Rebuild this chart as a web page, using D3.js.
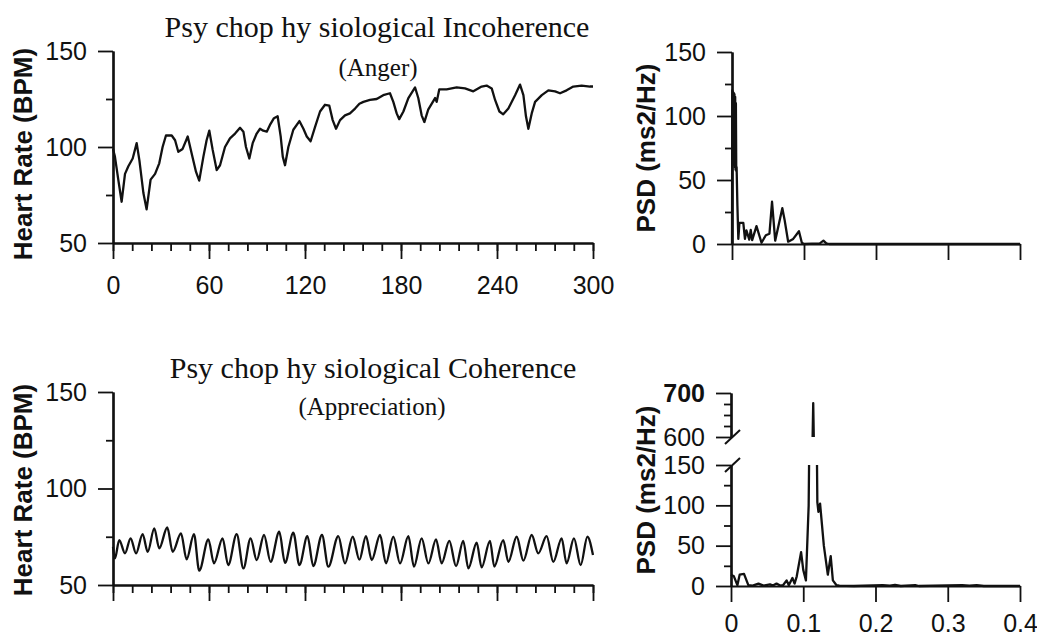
<!DOCTYPE html>
<html lang="en">
<head>
<meta charset="UTF-8">
<title>Heart rhythm patterns</title>
<script src="https://d3js.org/d3.v7.min.js"></script>
<style>
  body { margin: 0; background: #fff; }
  .tick text { font-family: "Liberation Sans", Arial, sans-serif; font-size: 25px; fill: #111; }
  .domain { stroke: #111; stroke-width: 2.2; }
  .tick line { stroke: #111; stroke-width: 1.8; }
</style>
</head>
<body>
<svg id="chart" width="1037" height="637"></svg>
<script>
// heart rate during anger: [seconds, BPM]
var angerHR = [[0,99],[1.2,95],[3.3,83],[5.4,71.5],[7.5,86],[9.6,90],[12.3,94],[14.8,102],[16.5,93],[19,76],
  [21,67.5],[23.5,83],[26.3,86],[28.9,91.5],[31,100],[33.1,106],[36.7,106],[38.8,103.5],[40.8,97.5],[43.5,99],
  [46.7,105.5],[49.2,96.5],[51.9,87],[53.9,82.5],[56.5,95],[58.5,103.5],[60.2,108.5],[62.3,98.5],[64.8,88],[66.9,90.5],
  [70,100],[73.1,104.5],[76.3,107],[79.4,110],[81.5,108],[83.1,100],[85.2,94],[87.3,102],[89.8,107],[91.9,109.5],
  [93.9,108.5],[96.1,108],[98.1,111.5],[100.6,115],[102.9,116],[104.8,105.5],[106.1,95],[107.5,90.5],[109.6,100],[112.7,109],
  [116.5,113.5],[119,109.5],[121.1,105.5],[123.5,103],[126.3,110.5],[129.4,118.5],[132.5,122],[135.2,121.5],[137.3,114],[139.4,109.5],
  [141.9,114],[145,116.5],[148.1,117.5],[151.3,120],[154,122.5],[156.5,123.5],[160.6,124.5],[164.8,125],[168.9,127],[173.1,128],
  [175.2,123.5],[177.3,117.5],[178.9,114.5],[181.5,118.5],[184.6,125.5],[188.8,131],[190.8,125.5],[192.9,116.5],[194.6,113],[197,119.5],
  [201.3,125.5],[202.3,123.5],[203.9,130],[208.5,130],[214.8,131],[220,130.5],[225.2,129],[230.4,131.5],[233.5,132],[236.7,130.5],
  [238.8,124.5],[241.5,118.5],[243.9,117],[247.1,120],[251.3,127],[254.4,132.5],[256.5,127],[258.1,116],[259.6,109.5],[261.7,117.5],
  [263.8,123.5],[268,127],[272.1,129.5],[276.3,129],[279.4,128],[283.5,129.5],[287.7,131.5],[292.9,132],[298.1,131.5],[300,131.5]];

// heart rate during appreciation: [seconds, BPM]
var appreciationHR = [[0,69.8],[1.2,63.8],[3.9,73.3],[7.5,66.4],[11,74.2],[14.4,66.4],[18.5,76.4],[21.7,67.2],[25.8,79.3],[28.9,69],
  [33.9,79.8],[37.3,67.2],[42.5,76.7],[46,63.3],[50.6,76.4],[53.9,57.4],[59.6,73.6],[63.1,61.2],[68.5,74.2],[72,60.3],
  [77.3,76.4],[81.5,58.6],[86,74.2],[89.8,62.9],[94.4,75.9],[98.5,62],[103.9,77.6],[107.5,61.5],[112.7,77.1],[116.5,60.3],
  [121.5,75.3],[125.2,59.8],[130.6,75.9],[134.6,59.5],[140.8,75.3],[145,61.2],[149.8,75],[154,63.1],[158.1,75.3],[161.7,62.9],
  [166.9,75.9],[170.6,61.2],[175.2,75],[179.4,61.2],[184.6,75.3],[188.1,59.5],[192.9,74.2],[197.1,61.2],[201.9,73.6],[205.4,61.2],
  [210.2,72.9],[214.4,59.8],[218.9,72.9],[222.1,58.6],[227.3,71.9],[230.4,59.1],[235.6,72.9],[238.3,59.5],[243.9,73.3],[247.1,62],
  [252.3,75],[256.5,62.6],[261.7,75.9],[265.8,66.4],[271,75.3],[275.2,62],[280.4,74.2],[283.5,61.2],[288.1,74.2],[292.3,60.3],
  [296.5,75],[300,65.5]];

// power spectra: [Hz, ms2/Hz]
var angerPSD = [[0,0],[0.0004,120],[0.0009,62],[0.0014,119],[0.0019,64],[0.0024,118],[0.0029,62],[0.0034,117],[0.0039,60],
  [0.0044,115],[0.0049,58],[0.0054,110],[0.0059,57],[0.0064,60],
  [0.0075,30],[0.0088,4],[0.0103,16.5],[0.0157,16.5],[0.018,4],[0.02,10.6],[0.024,3.4],[0.026,11],
  [0.028,3],[0.034,14],[0.041,1],[0.047,6.8],[0.052,8],[0.0556,33],[0.06,2.6],[0.0699,28],[0.073,19],[0.078,1.8],
  [0.085,4],[0.093,10],[0.097,1],[0.1,0],[0.122,0.5],[0.127,2.6],[0.131,0.5],[0.135,0],[0.4,0]];

var appreciationPSD = [[0,14],[0.004,12],[0.0088,1],[0.012,14],[0.018,15],[0.024,1],[0.03,0.5],[0.038,3],[0.045,0.5],
  [0.054,2],[0.058,0.5],[0.063,3],[0.068,0.5],[0.072,1],[0.077,7],[0.08,1],[0.085,10],[0.088,3],[0.091,12],[0.097,42],
  [0.1,20],[0.1037,7],[0.1075,100],[0.1138,677],[0.1195,104],[0.121,92],[0.1233,102],[0.1285,50],[0.134,14],[0.138,37],
  [0.141,7],[0.146,1],[0.15,0.5],[0.17,0],[0.21,1],[0.22,0.5],[0.227,1.5],[0.235,0],[0.255,1],[0.26,0],[0.32,1],
  [0.33,0.5],[0.34,1],[0.35,0],[0.4,0]];

var timeTicks = [0, 60, 120, 180, 240, 300];
var timeMinor = d3.range(0, 301, 12);
var hrTicks = [50, 100, 150];
var hrMinor = [75, 125];
var freqTicks = [0, 0.1, 0.2, 0.3, 0.4];
var psdTicks = [0, 50, 100, 150];
var psdMinor = [25, 75, 125];
var psdHighTicks = [600, 700];
var psdHighMinor = [625, 650, 675];

var svg = d3.select("#chart");
var ink = "#111";
var sans = "'Liberation Sans', Arial, sans-serif";
var serif = "'Liberation Serif', 'Times New Roman', serif";

// scales
var xTime = d3.scaleLinear().domain([0, 300]).range([113, 593]);
var yHrTop = d3.scaleLinear().domain([50, 150]).range([243, 51]);
var yHrBot = d3.scaleLinear().domain([50, 150]).range([585, 392]);
var xFreqTop = d3.scaleLinear().domain([0, 0.4]).range([732, 1020]);
var xFreqBot = d3.scaleLinear().domain([0, 0.4]).range([731, 1020]);
var yPsdTop = d3.scaleLinear().domain([0, 150]).range([244, 52]);
var yPsdLo = d3.scaleLinear().domain([0, 150]).range([586, 465]);
var yPsdHi = d3.scaleLinear().domain([600, 700]).range([437, 393]);

function yAxis(x0, y, major, minor) {
    svg.append("g").attr("transform", "translate(" + x0 + ",0)")
        .call(d3.axisLeft(y).tickValues(minor).tickSize(7).tickSizeOuter(0).tickFormat(""));
    return svg.append("g").attr("transform", "translate(" + x0 + ",0)")
        .call(d3.axisLeft(y).tickValues(major).tickSize(15).tickPadding(11).tickSizeOuter(0).tickFormat(d3.format("d")));
}

function xAxis(y0, x, major, minor, fmt, pad) {
    if (minor) {
        svg.append("g").attr("transform", "translate(0," + y0 + ")")
            .call(d3.axisBottom(x).tickValues(minor).tickSize(8).tickSizeOuter(0).tickFormat(""));
    }
    svg.append("g").attr("transform", "translate(0," + y0 + ")")
        .call(d3.axisBottom(x).tickValues(major).tickSize(16).tickPadding(pad).tickSizeOuter(0).tickFormat(fmt));
}

function trace(data, x, y, curve, clip) {
    var p = svg.append("path").datum(data)
        .attr("fill", "none")
        .attr("stroke", ink)
        .attr("stroke-width", 2.3)
        .attr("stroke-linejoin", "round")
        .attr("d", d3.line().x(d => x(d[0])).y(d => y(d[1])).curve(curve));
    if (clip) p.attr("clip-path", "url(#" + clip + ")");
}

function yTitle(text, cx, cy) {
    svg.append("text")
        .attr("transform", "translate(" + cx + "," + cy + ") rotate(-90)")
        .attr("text-anchor", "middle")
        .attr("dy", "0.35em")
        .style("font-family", sans)
        .style("font-weight", "bold")
        .style("font-size", "26px")
        .style("fill", ink)
        .text(text);
}

function title(text, cx, y, size) {
    svg.append("text")
        .attr("x", cx).attr("y", y)
        .attr("text-anchor", "middle")
        .style("font-family", serif)
        .style("font-size", size + "px")
        .style("fill", ink)
        .text(text);
}

// clip regions for the broken axis panel
var defs = svg.append("defs");
defs.append("clipPath").attr("id", "clipLo").append("rect")
    .attr("x", 720).attr("y", yPsdLo(150))
    .attr("width", 310).attr("height", yPsdLo(0) - yPsdLo(150) + 4);
defs.append("clipPath").attr("id", "clipHi").append("rect")
    .attr("x", 720).attr("y", yPsdHi(700))
    .attr("width", 310).attr("height", yPsdHi(600) - yPsdHi(700));

// ---- top left: anger heart rate
title("Psy chop hy siological Incoherence", 377, 37, 30);
title("(Anger)", 378, 76, 25);
yAxis(113, yHrTop, hrTicks, hrMinor);
xAxis(243, xTime, timeTicks, timeMinor, d3.format("d"), 17);
trace(angerHR, xTime, yHrTop, d3.curveLinear);
yTitle("Heart Rate (BPM)", 23, 154);

// ---- top right: anger spectrum
yAxis(732, yPsdTop, psdTicks, psdMinor);
xAxis(244, xFreqTop, freqTicks, null, "", 0);
trace(angerPSD, xFreqTop, yPsdTop, d3.curveLinear);
yTitle("PSD (ms2/Hz)", 646, 148);

// ---- bottom left: appreciation heart rate
title("Psy chop hy siological Coherence", 373, 378, 30);
title("(Appreciation)", 372, 415, 25);
yAxis(113, yHrBot, hrTicks, hrMinor);
xAxis(585, xTime, timeTicks, timeMinor, "", 0);
trace(appreciationHR, xTime, yHrBot, d3.curveMonotoneX);
yTitle("Heart Rate (BPM)", 23, 490);

// ---- bottom right: appreciation spectrum with broken y axis
yAxis(731, yPsdLo, psdTicks, psdMinor);
var hi = yAxis(731, yPsdHi, psdHighTicks, psdHighMinor);
hi.selectAll(".tick text").filter(d => d === 700).style("font-weight", "bold");
xAxis(586, xFreqBot, freqTicks, null, d => d === 0 ? "0" : d3.format(".1f")(d), 12);
trace(appreciationPSD, xFreqBot, yPsdLo, d3.curveLinear, "clipLo");
trace(appreciationPSD, xFreqBot, yPsdHi, d3.curveLinear, "clipHi");
[yPsdHi(600), yPsdLo(150)].forEach(function (yb) {
    svg.append("line")
        .attr("x1", 725).attr("y1", yb + 7)
        .attr("x2", 740).attr("y2", yb - 7)
        .attr("stroke", ink).attr("stroke-width", 2);
});
yTitle("PSD (ms2/Hz)", 646, 490);
</script>
</body>
</html>
